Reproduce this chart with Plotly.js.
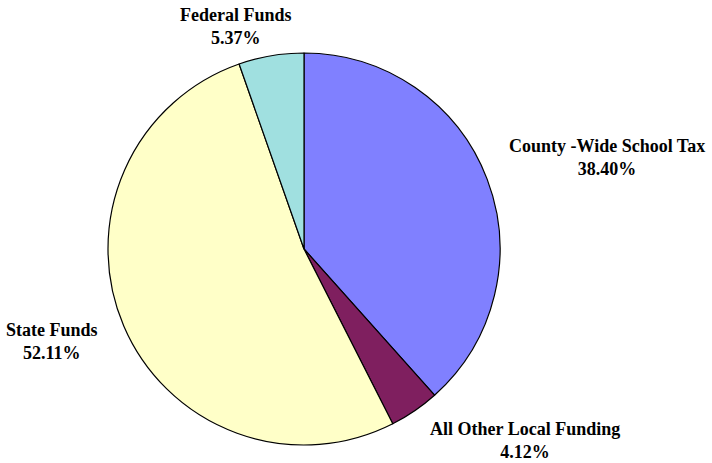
<!DOCTYPE html>
<html>
<head>
<meta charset="utf-8">
<script src="https://cdn.plot.ly/plotly-3.0.1.min.js"></script>
<style>html,body{margin:0;padding:0;background:#fff;}#chart{width:712px;height:463px;}</style>
</head>
<body>
<div id="chart"></div>
<script>
var categories = ["County -Wide School Tax", "All Other Local Funding", "State Funds", "Federal Funds"];
var shares = [38.40, 4.12, 52.11, 5.37];
var sliceColors = ["#8080FF", "#7F1F5F", "#FFFFC8", "#A0E0E0"];

// label anchor positions in pixels (layout only)
var labelPos = [
  {x: 607, y: 157},
  {x: 525, y: 440},
  {x: 52, y: 341},
  {x: 236, y: 26}
];

var W = 712, H = 463;
var annotations = categories.map(function (c, i) {
  return {
    text: "<b>" + c + "<br>" + shares[i].toFixed(2) + "%</b>",
    x: labelPos[i].x / W,
    y: 1 - labelPos[i].y / H,
    xref: "paper", yref: "paper",
    xanchor: "center", yanchor: "middle",
    showarrow: false,
    font: {family: "Liberation Serif, Times New Roman, serif", size: 18, color: "#000"}
  };
});

var data = [{
  type: "pie",
  labels: categories,
  values: shares,
  sort: false,
  direction: "clockwise",
  rotation: 0,
  textinfo: "none",
  hoverinfo: "label+percent",
  marker: {colors: sliceColors, line: {color: "#000", width: 1.2}},
  domain: {x: [108 / W, 500 / W], y: [1 - 445 / H, 1 - 53 / H]}
}];

var layout = {
  width: W, height: H,
  margin: {l: 0, r: 0, t: 0, b: 0},
  showlegend: false,
  paper_bgcolor: "#fff",
  annotations: annotations
};

Plotly.newPlot("chart", data, layout, {displayModeBar: false, staticPlot: true});
</script>
</body>
</html>
